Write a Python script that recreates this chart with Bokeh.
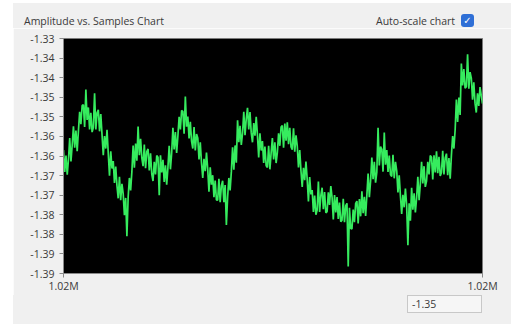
import numpy as np
from bokeh.plotting import figure
from bokeh.models import FixedTicker, Range1d, Div
from bokeh.layouts import column
from bokeh.embed import file_html
from bokeh.resources import INLINE

# Amplitude readings, one per acquired sample
amplitude = [
    -1.3585, -1.3641, -1.3599, -1.3648, -1.3609, -1.3554, -1.3614, -1.3572,
    -1.3524, -1.3579, -1.3535, -1.3588, -1.3536, -1.3487, -1.3519, -1.3471,
    -1.3469, -1.3526, -1.3430, -1.3508, -1.3476, -1.3532, -1.3490, -1.3539,
    -1.3527, -1.3440, -1.3532, -1.3490, -1.3482, -1.3537, -1.3493, -1.3546,
    -1.3598, -1.3549, -1.3581, -1.3533, -1.3593, -1.3650, -1.3588, -1.3632,
    -1.3613, -1.3669, -1.3627, -1.3676, -1.3708, -1.3653, -1.3713, -1.3671,
    -1.3696, -1.3751, -1.3707, -1.3805, -1.3705, -1.3656, -1.3688, -1.3640,
    -1.3573, -1.3630, -1.3568, -1.3612, -1.3525, -1.3598, -1.3556, -1.3605,
    -1.3626, -1.3571, -1.3631, -1.3589, -1.3582, -1.3637, -1.3593, -1.3646,
    -1.3664, -1.3615, -1.3647, -1.3599, -1.3603, -1.3700, -1.3598, -1.3642,
    -1.3610, -1.3666, -1.3624, -1.3673, -1.3629, -1.3574, -1.3634, -1.3592,
    -1.3528, -1.3583, -1.3539, -1.3592, -1.3549, -1.3500, -1.3532, -1.3484,
    -1.3486, -1.3543, -1.3448, -1.3525, -1.3499, -1.3555, -1.3513, -1.3562,
    -1.3581, -1.3526, -1.3586, -1.3544, -1.3554, -1.3609, -1.3565, -1.3618,
    -1.3656, -1.3607, -1.3639, -1.3591, -1.3634, -1.3691, -1.3629, -1.3673,
    -1.3649, -1.3705, -1.3663, -1.3712, -1.3713, -1.3658, -1.3718, -1.3676,
    -1.3663, -1.3718, -1.3674, -1.3776, -1.3705, -1.3656, -1.3688, -1.3640,
    -1.3578, -1.3635, -1.3573, -1.3617, -1.3509, -1.3565, -1.3523, -1.3572,
    -1.3542, -1.3487, -1.3547, -1.3505, -1.3477, -1.3532, -1.3488, -1.3541,
    -1.3565, -1.3516, -1.3548, -1.3500, -1.3547, -1.3604, -1.3542, -1.3586,
    -1.3562, -1.3618, -1.3576, -1.3625, -1.3629, -1.3574, -1.3634, -1.3592,
    -1.3554, -1.3609, -1.3565, -1.3618, -1.3591, -1.3542, -1.3574, -1.3526,
    -1.3522, -1.3579, -1.3517, -1.3561, -1.3514, -1.3570, -1.3528, -1.3577,
    -1.3584, -1.3529, -1.3589, -1.3547, -1.3574, -1.3629, -1.3585, -1.3638,
    -1.3679, -1.3630, -1.3662, -1.3614, -1.3659, -1.3716, -1.3654, -1.3698,
    -1.3687, -1.3743, -1.3701, -1.3750, -1.3738, -1.3665, -1.3743, -1.3701,
    -1.3681, -1.3736, -1.3692, -1.3745, -1.3742, -1.3693, -1.3725, -1.3677,
    -1.3705, -1.3762, -1.3700, -1.3744, -1.3705, -1.3761, -1.3719, -1.3768,
    -1.3764, -1.3709, -1.3769, -1.3727, -1.3721, -1.3882, -1.3732, -1.3785,
    -1.3786, -1.3737, -1.3769, -1.3721, -1.3715, -1.3772, -1.3710, -1.3754,
    -1.3690, -1.3746, -1.3704, -1.3753, -1.3700, -1.3645, -1.3705, -1.3663,
    -1.3604, -1.3659, -1.3615, -1.3668, -1.3641, -1.3528, -1.3624, -1.3576,
    -1.3583, -1.3640, -1.3540, -1.3622, -1.3585, -1.3641, -1.3599, -1.3648,
    -1.3652, -1.3597, -1.3657, -1.3615, -1.3638, -1.3693, -1.3649, -1.3702,
    -1.3748, -1.3699, -1.3731, -1.3683, -1.3726, -1.3828, -1.3721, -1.3765,
    -1.3681, -1.3737, -1.3695, -1.3744, -1.3708, -1.3653, -1.3713, -1.3671,
    -1.3615, -1.3670, -1.3626, -1.3679, -1.3664, -1.3615, -1.3647, -1.3599,
    -1.3603, -1.3660, -1.3598, -1.3642, -1.3588, -1.3644, -1.3602, -1.3651,
    -1.3642, -1.3587, -1.3647, -1.3605, -1.3594, -1.3649, -1.3605, -1.3658,
    -1.3598, -1.3549, -1.3581, -1.3533, -1.3456, -1.3513, -1.3451, -1.3495,
    -1.3364, -1.3420, -1.3378, -1.3427, -1.3423, -1.3340, -1.3428, -1.3386,
    -1.3401, -1.3456, -1.3412, -1.3465, -1.3489, -1.3440, -1.3472, -1.3424,
    -1.3446, -1.3466,
]

first_sample = 1020100
sample_step = 4

y_ticks = [-1.39, -1.385, -1.38, -1.375, -1.37, -1.365, -1.36,
           -1.355, -1.35, -1.345, -1.34, -1.335, -1.33]
y_tick_labels = ["-1.39", "-1.39", "-1.38", "-1.38", "-1.37", "-1.37", "-1.36",
                 "-1.36", "-1.35", "-1.35", "-1.34", "-1.34", "-1.33"]
x_tick_labels = ["1.02M", "1.02M"]

title_text = "Amplitude vs. Samples Chart"
autoscale_text = "Auto-scale chart"

samples = first_sample + sample_step * np.arange(len(amplitude))

FONT = "Open Sans"
PANEL = "#f0f0f0"
TEXT = "#3a3a3a"

# chart header: caption on the left, auto-scale checkbox on the right
header_html = f"""
<div style="position:relative;width:498px;height:25px;font-family:'{FONT}';
            font-size:10.5px;color:{TEXT};">
  <span style="position:absolute;left:11px;top:11px;line-height:14px;
               white-space:nowrap;">{title_text}</span>
  <span style="position:absolute;right:56px;top:11px;line-height:14px;
               white-space:nowrap;">{autoscale_text}</span>
  <div style="position:absolute;left:448px;top:11px;width:13px;height:13px;
              background:#2f6fd6;border-radius:3px;color:white;
              font-family:'DejaVu Sans';font-size:10px;font-weight:bold;
              line-height:13px;text-align:center;">&#10003;</div>
</div>
"""
header = Div(text=header_html, width=498, height=25, margin=0,
             styles={"background-color": PANEL})

p = figure(width=498, height=267, output_backend="svg", toolbar_location=None,
           x_range=Range1d(samples[0], samples[-1]),
           y_range=Range1d(y_ticks[0], y_ticks[-1]),
           min_border_left=50, min_border_right=29,
           min_border_top=10, min_border_bottom=21)
p.margin = 0
p.background_fill_color = "black"
p.border_fill_color = PANEL
p.outline_line_color = "#7a7a7a"
p.grid.visible = False

p.line(samples, amplitude, line_color="#36ec5e", line_width=1.7)

# axes
p.yaxis.ticker = FixedTicker(ticks=y_ticks)
p.yaxis.major_label_overrides = dict(zip(y_ticks, y_tick_labels))
x_ends = [float(samples[0]), float(samples[-1])]
p.xaxis.ticker = FixedTicker(ticks=x_ends)
p.xaxis.major_label_overrides = dict(zip(x_ends, x_tick_labels))
for ax in (p.xaxis, p.yaxis):
    ax.axis_line_color = "#8a8a8a"
    ax.major_tick_line_color = "#8a8a8a"
    ax.major_tick_in = 0
    ax.major_tick_out = 4
    ax.minor_tick_line_color = None
    ax.major_label_text_font = FONT
    ax.major_label_text_font_size = "10.5px"
    ax.major_label_text_color = TEXT
p.yaxis.major_label_standoff = 5
p.xaxis.major_label_standoff = 1

# digital display of the latest reading
footer_html = f"""
<div style="position:relative;width:498px;height:29px;font-family:'{FONT}';
            font-size:10.5px;color:{TEXT};">
  <div style="position:absolute;left:394px;top:0px;width:75px;height:18px;
              box-sizing:border-box;background:#f6f6f6;border:1px solid #c8c8c8;
              padding-left:4px;line-height:16px;">{amplitude[-1]:.2f}</div>
</div>
"""
footer = Div(text=footer_html, width=498, height=29, margin=0,
             styles={"background-color": PANEL})

page = column(header, p, footer, margin=(3, 0, 9, 13), spacing=0)

open("out.html", "w").write(file_html(page, INLINE))
